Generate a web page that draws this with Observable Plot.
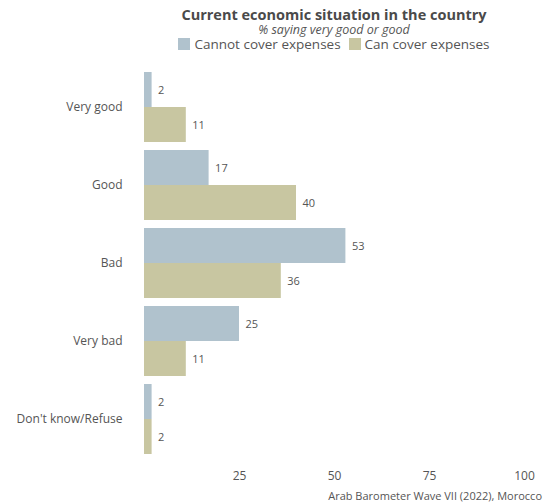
<!DOCTYPE html>
<html>
<head>
<meta charset="utf-8">
<script src="https://cdn.jsdelivr.net/npm/d3@7"></script>
<script src="https://cdn.jsdelivr.net/npm/@observablehq/plot@0.6"></script>
<style>
  html, body { margin: 0; padding: 0; background: #fff; }
  body { width: 547px; height: 504px; position: relative; overflow: hidden; font-family: "Open Sans", sans-serif; color: #555; }
  .hdr { position: absolute; left: 144px; width: 380px; text-align: center; white-space: nowrap; }
  #title { top: 7px; line-height: 16px; font-size: 14.5px; font-weight: 700; color: #4a4a4a; }
  #subtitle { top: 23px; line-height: 13px; font-size: 12.5px; font-style: italic; color: #555; }
  #legend { top: 36px; line-height: 16px; font-size: 13.5px; color: #555; }
  .sw { display: inline-block; width: 12px; height: 12px; vertical-align: -1px; margin-right: 4px; }
  .item { margin: 0 4px; }
  #chart { position: absolute; top: 60px; left: 0; }
  #caption { position: absolute; top: 488px; right: 5px; line-height: 16px; font-size: 11px; color: #555; }
</style>
</head>
<body>
<div id="title" class="hdr">Current economic situation in the country</div>
<div id="subtitle" class="hdr">% saying very good or good</div>
<div id="legend" class="hdr"></div>
<div id="chart"></div>
<div id="caption">Arab Barometer Wave VII (2022), Morocco</div>
<script>
const categories = ["Very good", "Good", "Bad", "Very bad", "Don't know/Refuse"];
const series = ["Cannot cover expenses", "Can cover expenses"];
const cannotCover = [2, 17, 53, 25, 2];
const canCover = [11, 40, 36, 11, 2];
const xTicks = [25, 50, 75, 100];
const colors = ["#b0c2cd", "#c8c6a1"];

const data = categories.flatMap((c, i) => [
  {category: c, series: series[0], value: cannotCover[i]},
  {category: c, series: series[1], value: canCover[i]}
]);

document.getElementById("legend").innerHTML = series.map((s, i) =>
  `<span class="item"><span class="sw" style="background:${colors[i]}"></span>${s}</span>`).join("");

const chart = Plot.plot({
  width: 547,
  height: 426,
  marginLeft: 144,
  marginRight: 23,
  marginTop: 12,
  marginBottom: 32,
  style: {fontFamily: "'Open Sans', sans-serif", fontSize: "12px", color: "#555", background: "#fff"},
  x: {domain: [0, 100], axis: null},
  y: {domain: series, axis: null, paddingInner: 0, paddingOuter: 0},
  fy: {domain: categories, paddingInner: 0.1026, paddingOuter: 0, axis: null},
  color: {domain: series, range: colors},
  marks: [
    Plot.barX(data, {fy: "category", y: "series", x: "value", fill: "series"}),
    Plot.text(data, {fy: "category", y: "series", x: "value", text: d => String(d.value), dx: 6, textAnchor: "start", fill: "#555", fontSize: 11}),
    Plot.axisX({ticks: xTicks, tickSize: 0, tickPadding: 17, label: null, fontSize: 12, fill: "#555"}),
    Plot.axisFy({anchor: "left", tickSize: 0, tickPadding: 22, label: null, fontSize: 12, fill: "#555"})
  ]
});
document.getElementById("chart").appendChild(chart);
</script>
</body>
</html>
